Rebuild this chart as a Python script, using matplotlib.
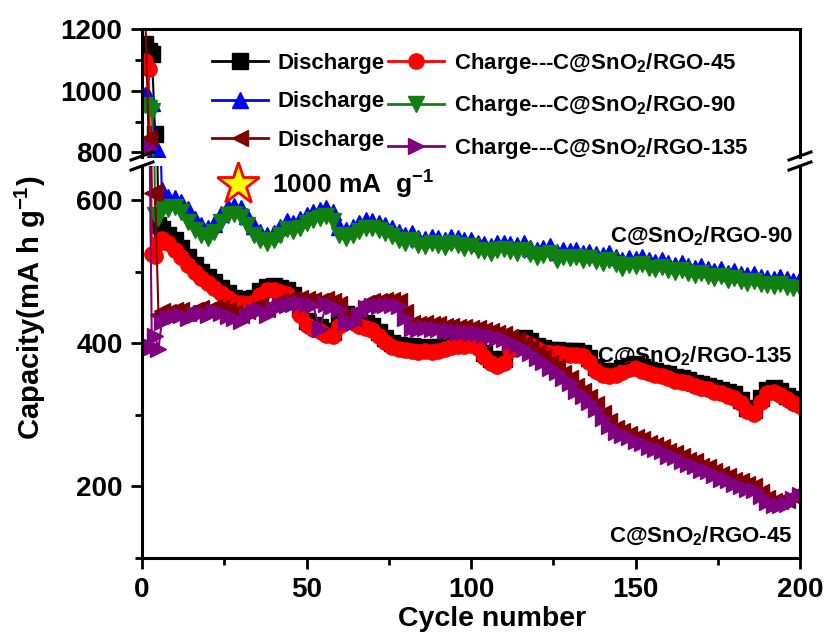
import numpy as np
import matplotlib
matplotlib.use("Agg")
import matplotlib.pyplot as plt
from matplotlib.lines import Line2D

plt.rcParams['font.family'] = 'Liberation Sans'
plt.rcParams['font.weight'] = 'bold'
plt.rcParams['mathtext.fontset'] = 'custom'
plt.rcParams['mathtext.rm'] = 'Liberation Sans:bold'
plt.rcParams['mathtext.bf'] = 'Liberation Sans:bold'
plt.rcParams['mathtext.default'] = 'bf'

# cycle numbers (every cycle at the start, then every 2nd cycle)
cycles = [1, 2, 3, 4, 5, 6] + list(range(8, 201, 2))

# C@SnO2/RGO-45
dis_45 = [1150, 1130, 1120, 860, 565, 560,
          552, 544, 534, 521, 509, 500, 493, 486, 478, 470,
          464, 462, 461, 464, 473, 479, 480, 478, 475, 468,
          448, 432, 426, 423, 418, 416, 430, 441, 436, 430,
          428, 425, 416, 408, 401, 398, 397, 396, 394, 395,
          394, 395, 397, 400, 401, 402, 403, 400, 387, 378,
          375, 378, 396, 404, 407, 403, 397, 393, 391, 391,
          390, 389, 389, 387, 379, 367, 361, 360, 361, 365,
          369, 371, 367, 363, 361, 359, 357, 353, 351, 349,
          345, 343, 341, 337, 335, 332, 329, 321, 310, 307,
          323, 335, 337, 333, 327, 322, 317]
chg_45 = [1095, 1070, 525, 522, 540, 546,
          540, 531, 521, 510, 500, 492, 485, 478, 470, 463,
          458, 456, 455, 458, 467, 474, 475, 472, 469, 461,
          440, 426, 420, 417, 412, 410, 424, 436, 430, 424,
          422, 419, 410, 402, 395, 392, 391, 390, 388, 390,
          388, 390, 392, 395, 396, 396, 398, 394, 381, 372,
          369, 372, 391, 399, 402, 398, 392, 388, 386, 386,
          385, 384, 384, 382, 374, 361, 356, 355, 356, 360,
          364, 366, 362, 358, 356, 354, 352, 348, 346, 344,
          340, 338, 336, 332, 330, 327, 324, 316, 305, 302,
          318, 330, 332, 328, 322, 317, 312]

# C@SnO2/RGO-90
dis_90 = [985, 975, 960, 812, 805, 615,
          604, 603, 598, 588, 574, 565, 561, 567, 581, 590,
          592, 589, 578, 564, 556, 551, 554, 563, 571, 569,
          574, 580, 584, 587, 589, 583, 563, 559, 563, 568,
          573, 571, 569, 566, 561, 556, 552, 555, 548, 546,
          549, 547, 545, 549, 547, 544, 545, 541, 539, 536,
          540, 541, 539, 537, 540, 534, 531, 534, 536, 528,
          531, 529, 531, 527, 528, 525, 523, 526, 521, 517,
          520, 518, 521, 516, 514, 517, 512, 510, 512, 508,
          506, 508, 504, 501, 504, 499, 501, 497, 495, 497,
          493, 492, 490, 493, 490, 487, 490]
chg_90 = [955, 945, 935, 580, 575, 590,
          588, 590, 584, 570, 558, 551, 548, 556, 570, 579,
          581, 577, 566, 552, 545, 540, 544, 552, 560, 557,
          562, 568, 572, 576, 578, 571, 552, 548, 551, 557,
          562, 561, 559, 555, 550, 545, 541, 545, 538, 536,
          540, 537, 535, 540, 537, 534, 536, 531, 529, 526,
          530, 532, 529, 527, 530, 525, 521, 524, 527, 516,
          521, 519, 521, 517, 519, 515, 513, 516, 511, 506,
          510, 508, 511, 506, 504, 507, 502, 500, 502, 498,
          496, 498, 494, 491, 494, 489, 491, 487, 485, 487,
          483, 482, 480, 483, 479, 477, 478]

# C@SnO2/RGO-135
dis_135 = [1250, 845, 610, 612, 440, 445,
           444, 446, 447, 443, 447, 449, 447, 451, 449, 446,
           443, 440, 445, 451, 453, 448, 455, 459, 461, 462,
           463, 462, 461, 459, 462, 459, 455, 438, 436, 447,
           457, 459, 459, 460, 461, 459, 444, 429, 427, 429,
           427, 427, 425, 425, 423, 423, 422, 421, 419, 417,
           415, 413, 409, 405, 399, 393, 387, 381, 373, 367,
           359, 351, 341, 333, 325, 315, 303, 291, 282, 278,
           274, 269, 267, 261, 258, 255, 249, 247, 242, 237,
           235, 229, 227, 222, 217, 215, 209, 207, 203, 201,
           192, 184, 179, 179, 181, 186, 192]
chg_135 = [825, 815, 395, 410, 392, 430,
           436, 438, 440, 436, 440, 442, 440, 444, 442, 438,
           436, 432, 438, 444, 446, 440, 448, 452, 454, 455,
           456, 455, 454, 420, 455, 452, 448, 430, 428, 440,
           450, 452, 452, 453, 454, 452, 436, 422, 420, 422,
           420, 420, 418, 418, 416, 416, 415, 414, 412, 410,
           408, 406, 402, 398, 392, 386, 380, 374, 366, 360,
           352, 344, 334, 326, 318, 308, 296, 284, 276, 272,
           269, 263, 261, 255, 252, 249, 243, 241, 236, 231,
           229, 223, 221, 216, 211, 209, 203, 201, 197, 195,
           186, 178, 174, 174, 176, 182, 188]

series = [
    (dis_45, '#000000', 's', 'Discharge'),
    (chg_45, '#ff0000', 'o', 'Charge---C@SnO$_2$/RGO-45'),
    (dis_90, '#0000ff', '^', 'Discharge'),
    (chg_90, '#108010', 'v', 'Charge---C@SnO$_2$/RGO-90'),
    (dis_135, '#800000', '<', 'Discharge'),
    (chg_135, '#800080', '>', 'Charge---C@SnO$_2$/RGO-135'),
]

W, H = 827, 642
fig = plt.figure(figsize=(W / 100, H / 100), dpi=100)
ax_top = fig.add_axes([142 / W, 1 - 157 / H, 658 / W, 128 / H])
ax_bot = fig.add_axes([142 / W, 1 - 558 / H, 658 / W, 392 / H])

for ax in (ax_top, ax_bot):
    for ys, col, mk, lab in series:
        ax.plot(cycles, ys, color=col, marker=mk, markersize=11, lw=1.5,
                mec=col, label=lab)
    ax.set_xlim(0, 200)
    for s in ax.spines.values():
        s.set_linewidth(2.2)
    ax.tick_params(axis='both', which='major', direction='out', length=8,
                   width=2, labelsize=20, pad=6, right=False, top=False)
    ax.tick_params(axis='both', which='minor', direction='out', length=5,
                   width=2, right=False, top=False)

ax_top.set_ylim(785, 1200)
ax_top.set_yticks([800, 1000, 1200])
ax_top.set_yticks([900, 1100], minor=True)
ax_top.spines['bottom'].set_visible(False)
ax_top.tick_params(axis='x', which='both', bottom=False, labelbottom=False)

ax_bot.set_ylim(100, 648)
ax_bot.set_yticks([200, 400, 600])
ax_bot.set_yticks([100, 300, 500], minor=True)
ax_bot.set_xticks([0, 50, 100, 150, 200])
ax_bot.set_xticks([25, 75, 125, 175], minor=True)
ax_bot.spines['top'].set_visible(False)

# break marks on both spines
for xp in (142, 800):
    for yp in (156, 166):
        fig.add_artist(Line2D([(xp - 11) / W, (xp + 11) / W],
                              [1 - (yp + 4) / H, 1 - (yp - 4) / H],
                              color='black', lw=2.2))

# legend
handles = [Line2D([], [], color=col, marker=mk, markersize=11, lw=2, mec=col)
           for ys, col, mk, lab in series]
labels = [lab for ys, col, mk, lab in series]
order = [0, 2, 4, 1, 3, 5]
fig.legend([handles[i] for i in order], [labels[i] for i in order],
           loc='upper left', bbox_to_anchor=(212 / W, 1 - 51 / H),
           ncol=2, frameon=False, fontsize=16, handlelength=2.5,
           handletextpad=0.45, columnspacing=0.15, labelspacing=0.78,
           borderpad=0, borderaxespad=0)

ax_bot.plot([0.146], [0.954], transform=ax_bot.transAxes, marker='*',
            markersize=32, mfc='#ffff00', mec='#ff0000', mew=2, clip_on=False)
ax_bot.text(0.1976, 0.952, '1000 mA  g$^{-1}$', transform=ax_bot.transAxes,
            fontsize=19, va='center', ha='left')

ax_bot.text(0.989, 0.806, 'C@SnO$_2$/RGO-90', transform=ax_bot.transAxes,
            fontsize=16, ha='right', va='baseline')
ax_bot.text(0.989, 0.50, 'C@SnO$_2$/RGO-135', transform=ax_bot.transAxes,
            fontsize=16, ha='right', va='baseline')
ax_bot.text(0.989, 0.041, 'C@SnO$_2$/RGO-45', transform=ax_bot.transAxes,
            fontsize=16, ha='right', va='baseline')

fig.text(492 / W, 1 - 626 / H, 'Cycle number', fontsize=20.5,
         ha='center', va='baseline')
fig.text(30 / W, 1 - 308 / H, 'Capacity(mA h g$^{-1}$)', fontsize=21,
         rotation=90, ha='center', va='center')

fig.savefig('out.png', dpi=100)
